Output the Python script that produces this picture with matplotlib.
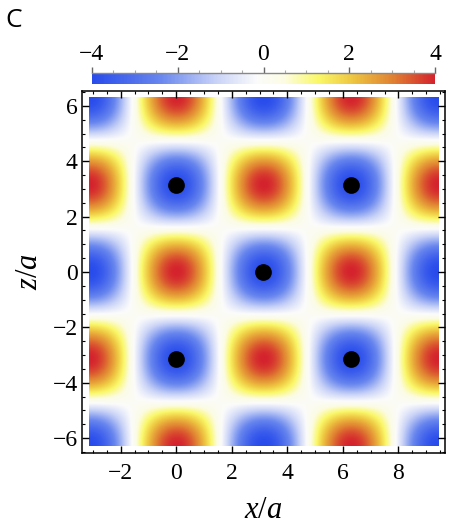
import numpy as np
import matplotlib
matplotlib.use("Agg")
import matplotlib.pyplot as plt
from matplotlib.colors import LinearSegmentedColormap
from matplotlib.ticker import MultipleLocator

plt.rcParams["font.family"] = ["Liberation Serif", "DejaVu Serif"]
plt.rcParams["mathtext.fontset"] = "custom"
plt.rcParams["mathtext.it"] = "Liberation Serif:italic"
plt.rcParams["mathtext.rm"] = "Liberation Serif"

# ---- data ----
amplitude = 4.0                      # colour scale runs -4 .. 4
x_range = [-np.pi, 3 * np.pi]        # plotted x/a span
z_range = [-2 * np.pi, 2 * np.pi]    # plotted z/a span
dot_x = [0.0, 2 * np.pi, np.pi, 0.0, 2 * np.pi]
dot_z = [np.pi, np.pi, 0.0, -np.pi, -np.pi]
x_ticks = [-2, 0, 2, 4, 6, 8]
z_ticks = [-6, -4, -2, 0, 2, 4, 6]
cbar_ticks = [-4, -2, 0, 2, 4]

# field: amplitude * cos(x) cos(z)
xs = np.linspace(x_range[0], x_range[1], 600)
zs = np.linspace(z_range[0], z_range[1], 600)
X, Z = np.meshgrid(xs, zs)
field = amplitude * np.cos(X) * np.cos(Z)

cmap = LinearSegmentedColormap.from_list("temp", [
    (0.00, (40/255, 75/255, 235/255)),
    (0.20, (105/255, 135/255, 238/255)),
    (0.36, (200/255, 210/255, 247/255)),
    (0.48, (251/255, 251/255, 251/255)),
    (0.56, (252/255, 252/255, 228/255)),
    (0.66, (250/255, 248/255, 105/255)),
    (0.76, (238/255, 198/255, 65/255)),
    (0.88, (224/255, 128/255, 50/255)),
    (1.00, (212/255, 35/255, 45/255)),
])

W, H = 471, 531
fig = plt.figure(figsize=(W / 100, H / 100), dpi=100)

def fmt(t):
    return f"{t}".replace("-", "\u2212")

ax = fig.add_axes([82 / W, 1 - 453 / H, 363 / W, 362 / H])
im = ax.imshow(field, extent=[x_range[0], x_range[1], z_range[0], z_range[1]],
               origin="lower", cmap=cmap, vmin=-amplitude, vmax=amplitude,
               aspect="auto", interpolation="bilinear")
ax.scatter(dot_x, dot_z, s=145, color="black", zorder=3, linewidths=0)

pad = 0.02 * (x_range[1] - x_range[0])
ax.set_xlim(x_range[0] - pad, x_range[1] + pad)
ax.set_ylim(z_range[0] - pad, z_range[1] + pad)
ax.set_xticks(x_ticks)
ax.set_yticks(z_ticks)
ax.set_xticklabels([fmt(t) for t in x_ticks])
ax.set_yticklabels([fmt(t) for t in z_ticks])
ax.xaxis.set_minor_locator(MultipleLocator(0.5))
ax.yaxis.set_minor_locator(MultipleLocator(0.5))
ax.tick_params(which="both", direction="in", top=True, right=True, color="black",
               labelsize=17)
ax.tick_params(which="major", length=5, width=1)
ax.tick_params(which="minor", length=2.5, width=0.8)
ax.tick_params(axis="x", which="major", pad=7)
ax.tick_params(axis="y", which="major", pad=3)
for sp in ax.spines.values():
    sp.set_linewidth(1.1)
ax.set_xlabel("$x/a$", fontsize=22, labelpad=9)
ax.set_ylabel("$z/a$", fontsize=22, labelpad=6)

# colorbar
cax = fig.add_axes([92 / W, 1 - 84 / H, 343 / W, 11 / H])
cb = fig.colorbar(im, cax=cax, orientation="horizontal", ticklocation="top")
cb.outline.set_visible(False)
cb.set_ticks(cbar_ticks)
cb.set_ticklabels([fmt(t) for t in cbar_ticks])
cax.xaxis.set_minor_locator(MultipleLocator(0.5))
cax.tick_params(which="major", direction="out", length=4, width=1, color="#666666",
                pad=2, labelsize=17)
cax.tick_params(which="minor", direction="out", length=2.5, width=0.8, color="#aaaaaa")
cax.axhline(1.0, color="#888888", lw=1, clip_on=False)

fig.text(5 / W, 1 - 27 / H, "C", fontsize=19, fontfamily="Open Sans",
         ha="left", va="baseline")

fig.savefig("out.png", dpi=100)
